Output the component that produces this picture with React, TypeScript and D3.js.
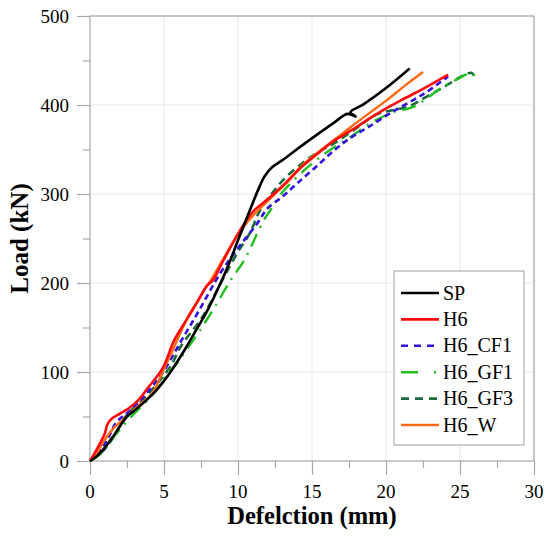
import * as d3 from 'd3'
import { useEffect, useRef } from 'react'

type Pt = [number, number]

// deflection (mm), load (kN)
const sp: Pt[] = [[0, 0], [0.5, 6], [1.0, 15], [1.5, 26], [1.9, 36], [2.5, 50], [3.1, 58], [3.85, 69], [4.4, 78], [5.0, 90], [5.6, 104], [6.4, 125], [7.2, 148], [7.9, 168], [8.6, 192], [9.3, 218], [10, 248], [11, 290], [11.5, 310], [11.8, 320], [12.3, 330], [13.0, 338], [14.2, 353], [15.2, 365], [16.4, 379], [17.4, 390], [17.95, 387], [17.6, 392], [18.5, 401], [20, 419], [21.6, 441]]
const h6: Pt[] = [[0, 0], [0.55, 16], [1.0, 31], [1.2, 42], [1.5, 48], [2.0, 53], [2.6, 59], [3.3, 69], [3.9, 82], [4.9, 104], [5.7, 136], [6.5, 158], [7.3, 180], [7.9, 197], [8.3, 203], [9.0, 225], [10.1, 258], [11, 280], [12, 294], [13, 309], [14.2, 329], [15.2, 343], [16.5, 360], [17.9, 374], [19, 386], [20.1, 397], [21.1, 406], [22.5, 418], [24.2, 434]]
const h6Cf1: Pt[] = [[0, 0], [0.6, 10], [1.2, 25], [1.8, 44], [2.6, 55], [3.7, 74], [4.9, 99], [6.2, 136], [7.4, 170], [8.8, 211], [9.9, 237], [11.3, 267], [12.0, 284], [13, 297], [14, 312], [15.3, 331], [16.5, 349], [17.5, 362], [18.7, 374], [20.5, 393], [22.5, 412], [24.2, 432]]
const h6Gf1: Pt[] = [[0, 0], [0.8, 9], [1.7, 29], [2.8, 50], [4.2, 74], [5.1, 95], [5.3, 100], [5.8, 108], [6.4, 122], [7.6, 151], [8.5, 175], [9.5, 203], [10.4, 225], [11.0, 245], [11.3, 256], [11.8, 272], [12.2, 282], [13, 302], [14.5, 327], [16, 347], [17.5, 363], [19, 380], [20.5, 392], [21.3, 395], [22.0, 399], [22.8, 408], [23.8, 420], [24.7, 428], [25.8, 436], [26.0, 432]]
const h6Gf3: Pt[] = [[0, 0], [0.8, 10], [1.6, 27], [2.4, 50], [3.7, 71], [5.5, 108], [6.1, 128], [7.6, 162], [9, 205], [10.0, 235], [10.8, 256], [11.5, 282], [12.5, 305], [13.3, 320], [14.3, 334], [15.4, 347], [16.6, 358], [18, 374], [19.3, 389], [20.4, 394], [21.5, 398], [22.6, 408], [23.8, 419], [25.1, 432], [25.8, 436], [26.0, 431]]
const h6W: Pt[] = [[0, 0], [0.5, 10], [1.0, 24], [1.6, 37], [2.2, 46], [3.2, 61], [4.2, 76], [4.9, 100], [5.5, 121], [6.5, 158], [7.5, 186], [8.3, 207], [9.1, 230], [9.9, 252], [10.7, 270], [11.5, 284], [12.5, 300], [13.5, 316], [14.2, 330], [15.5, 348], [16.6, 362], [17.6, 375], [18.8, 390], [20.1, 406], [21.3, 422], [22.5, 437]]

const seriesNames = ['SP', 'H6', 'H6_CF1', 'H6_GF1', 'H6_GF3', 'H6_W']
const seriesData = [sp, h6, h6Cf1, h6Gf1, h6Gf3, h6W]
const xTicks = [0, 5, 10, 15, 20, 25, 30]
const yTicks = [0, 100, 200, 300, 400, 500]

const styles = [
  { color: '#000000', width: 2.6, dash: '', legendDash: '' },
  { color: '#ff0a0a', width: 2.6, dash: '', legendDash: '' },
  { color: '#3311dd', width: 2.6, dash: '6,4', legendDash: '7,6' },
  { color: '#1fc01f', width: 2.4, dash: '14,7,2,7', legendDash: '17,16,2,10' },
  { color: '#1a6b3c', width: 2.6, dash: '8,5', legendDash: '8,6' },
  { color: '#ff6a10', width: 2.4, dash: '', legendDash: '' }
]

const App = () => {
  const ref = useRef<SVGSVGElement>(null)

  useEffect(() => {
    const svg = d3.select(ref.current)
    svg.selectAll('*').remove()

    const x = d3.scaleLinear().domain([0, 30]).range([90, 534])
    const y = d3.scaleLinear().domain([0, 500]).range([461, 16])
    const font = '"Liberation Serif", "Times New Roman", serif'
    const axisColor = '#a8a8a8'

    // grid
    svg
      .append('g')
      .selectAll('line.gx')
      .data(xTicks.slice(1))
      .join('line')
      .attr('x1', (d) => x(d))
      .attr('x2', (d) => x(d))
      .attr('y1', y(0))
      .attr('y2', y(500))
      .attr('stroke', '#e8e8e8')
    svg
      .append('g')
      .selectAll('line.gy')
      .data(yTicks.slice(1))
      .join('line')
      .attr('x1', x(0))
      .attr('x2', x(30))
      .attr('y1', (d) => y(d))
      .attr('y2', (d) => y(d))
      .attr('stroke', '#e8e8e8')

    // frame
    svg
      .append('rect')
      .attr('x', x(0))
      .attr('y', y(500))
      .attr('width', x(30) - x(0))
      .attr('height', y(0) - y(500))
      .attr('fill', 'none')
      .attr('stroke', axisColor)
      .attr('stroke-width', 1.2)

    // axes
    const xAxis = d3
      .axisBottom(x)
      .tickValues(d3.range(0, 30.1, 2.5))
      .tickSize(0)
      .tickFormat(() => '')
    const gx = svg.append('g').attr('transform', `translate(0,${y(0)})`).call(xAxis)
    gx.select('.domain').remove()
    gx.selectAll('.tick line')
      .attr('stroke', axisColor)
      .attr('stroke-width', 1.2)
      .attr('y2', (d) => ((d as number) % 5 === 0 ? 14 : 7))

    const yAxis = d3
      .axisLeft(y)
      .tickValues(d3.range(0, 500.1, 50))
      .tickSize(0)
      .tickFormat(() => '')
    const gy = svg.append('g').attr('transform', `translate(${x(0)},0)`).call(yAxis)
    gy.select('.domain').remove()
    gy.selectAll('.tick line')
      .attr('stroke', axisColor)
      .attr('stroke-width', 1.2)
      .attr('x2', (d) => ((d as number) % 100 === 0 ? -13 : -7))

    svg
      .append('g')
      .selectAll('text')
      .data(xTicks)
      .join('text')
      .attr('x', (d) => x(d))
      .attr('y', 498)
      .attr('text-anchor', 'middle')
      .style('font-family', font)
      .style('font-size', '19px')
      .text((d) => d)

    svg
      .append('g')
      .selectAll('text')
      .data(yTicks)
      .join('text')
      .attr('x', 69)
      .attr('y', (d) => y(d) + 6.5)
      .attr('text-anchor', 'end')
      .style('font-family', font)
      .style('font-size', '19px')
      .text((d) => d)

    svg
      .append('text')
      .attr('x', (x(0) + x(30)) / 2)
      .attr('y', 524)
      .attr('text-anchor', 'middle')
      .style('font-family', font)
      .style('font-size', '24.5px')
      .style('font-weight', 'bold')
      .text('Defelction (mm)')

    svg
      .append('text')
      .attr('transform', `translate(28,${(y(0) + y(500)) / 2}) rotate(-90)`)
      .attr('text-anchor', 'middle')
      .style('font-family', font)
      .style('font-size', '25px')
      .style('font-weight', 'bold')
      .text('Load (kN)')

    // curves
    const line = d3
      .line<Pt>()
      .x((d) => x(d[0]))
      .y((d) => y(d[1]))
      .curve(d3.curveCatmullRom.alpha(0.5))

    const order = [4, 3, 2, 5, 1, 0]
    order.forEach((i) => {
      svg
        .append('path')
        .datum(seriesData[i])
        .attr('d', line)
        .attr('fill', 'none')
        .attr('stroke', styles[i].color)
        .attr('stroke-width', styles[i].width)
        .attr('stroke-dasharray', styles[i].dash || null)
        .attr('stroke-linejoin', 'round')
    })

    // legend
    const lg = svg.append('g').attr('transform', 'translate(394,271)')
    lg.append('rect')
      .attr('width', 130)
      .attr('height', 174)
      .attr('fill', '#fff')
      .attr('stroke', '#b0b0b0')
      .attr('stroke-width', 1.2)
    seriesNames.forEach((name, i) => {
      const cy = 22 + i * 26.4
      lg.append('line')
        .attr('x1', 7)
        .attr('x2', 45)
        .attr('y1', cy)
        .attr('y2', cy)
        .attr('stroke', styles[i].color)
        .attr('stroke-width', styles[i].width)
        .attr('stroke-dasharray', styles[i].legendDash || null)
      lg.append('text')
        .attr('x', 49)
        .attr('y', cy + 6.5)
        .style('font-family', font)
        .style('font-size', '20px')
        .text(name)
    })
  }, [])

  return (
    <svg
      ref={ref}
      width={550}
      height={540}
      style={{ position: 'absolute', left: 0, top: 0, background: '#fff' }}
    />
  )
}

export default App
